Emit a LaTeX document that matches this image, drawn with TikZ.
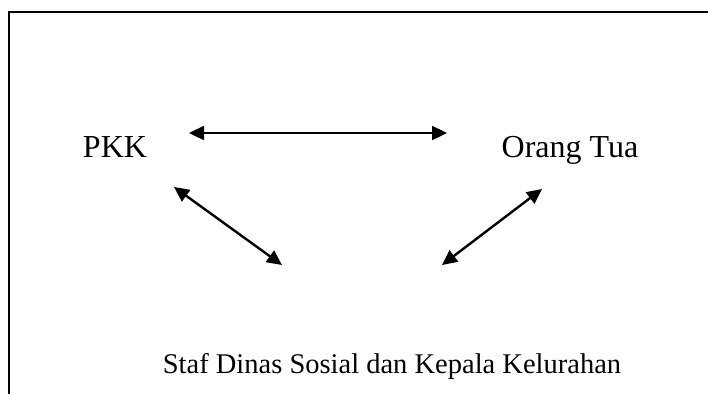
\documentclass[tikz,border=0pt]{standalone}
\usepackage{fontspec}
\setmainfont{Liberation Serif}
\usetikzlibrary{arrows.meta}
\begin{document}
\begin{tikzpicture}[x=1pt,y=-1pt,
  lbl/.style={inner sep=0pt,anchor=base,font=\fontsize{28.5}{34}\selectfont},
  toplbl/.style={lbl,font=\fontsize{32}{38}\selectfont},
  rel/.style={line width=2.4pt,{Triangle[length=15pt,width=14pt]}-{Triangle[length=15pt,width=14pt]}},
  frame/.style={line width=2pt}]
\useasboundingbox (0,0) rectangle (708,394);
\draw[frame] (9,394) -- (9,12) -- (708,12);
\node[toplbl] (pkk) at (115,157) {PKK};
\node[toplbl] (ot) at (570,157) {Orang Tua};
\node[lbl] (staf) at (392,373) {Staf Dinas Sosial dan Kepala Kelurahan};
\coordinate (a1) at (189,133);
\coordinate (a2) at (447,133);
\coordinate (b1) at (174,187);
\coordinate (b2) at (282,265);
\coordinate (c1) at (542,189);
\coordinate (c2) at (442,265);
\draw[rel] (a1) -- (a2);
\draw[rel] (b1) -- (b2);
\draw[rel] (c1) -- (c2);
\end{tikzpicture}
\end{document}
